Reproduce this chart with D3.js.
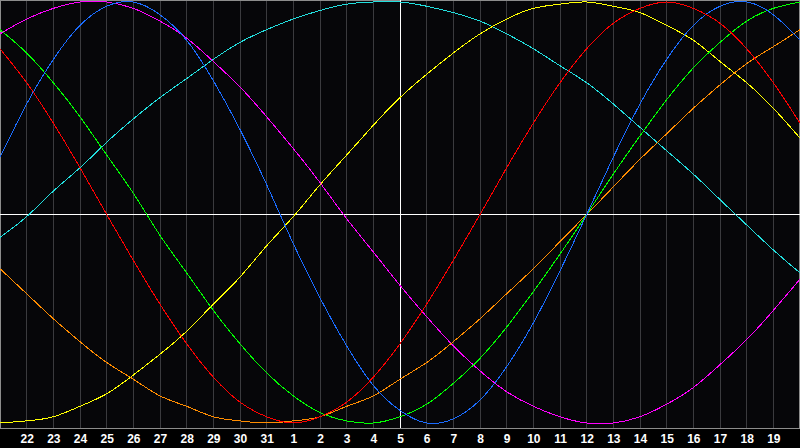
<!DOCTYPE html>
<html>
<head>
<meta charset="utf-8">
<script src="https://cdn.jsdelivr.net/npm/d3@7"></script>
<style>
  body { margin: 0; background: #000; }
  svg { display: block; }
</style>
</head>
<body>
<div class="chart"></div>
<script>
// day of month for each column (index 0..30), today = 5 in the middle
const days = [21, 22, 23, 24, 25, 26, 27, 28, 29, 30, 31,
  1, 2, 3, 4, 5, 6, 7, 8, 9, 10, 11, 12, 13, 14, 15, 16, 17, 18, 19, 20];

// cycle values in percent, one per day
const physical = [27, 52, 73, 89, 98, 100, 94, 82, 63, 40, 14, -14, -40, -63, -82, -94,
  -100, -98, -89, -73, -52, -27, 0, 27, 52, 73, 89, 98, 100, 94, 82];
const emotional = [78, 62, 43, 22, 0, -22, -43, -62, -78, -90, -97, -100, -97, -90, -78, -62,
  -43, -22, 0, 22, 43, 62, 78, 90, 97, 100, 97, 90, 78, 62, 43];
const intellectual = [87, 76, 62, 46, 28, 10, -10, -28, -46, -62, -76, -87, -95, -99, -100, -97,
  -91, -81, -69, -54, -37, -19, 0, 19, 37, 54, 69, 81, 91, 97, 100];
const intuitive = [85, 92, 97, 100, 100, 97, 91, 83, 72, 60, 46, 31, 15, -2, -18, -34,
  -49, -63, -75, -85, -92, -97, -100, -100, -97, -91, -83, -72, -60, -46, -31];
const aesthetic = [-100, -99, -97, -92, -86, -77, -67, -56, -43, -30, -15, -1, 14, 28, 42, 55,
  66, 76, 85, 92, 97, 99, 100, 98, 95, 89, 82, 72, 62, 50, 36];
const awareness = [-26, -38, -50, -61, -71, -79, -87, -92, -97, -99, -100, -99, -97, -92, -87, -79,
  -71, -61, -50, -38, -26, -13, 0, 13, 26, 38, 50, 61, 71, 79, 87];
const spiritual = [-11, -1, 11, 22, 34, 45, 55, 64, 73, 81, 87, 92, 96, 99, 100, 100,
  98, 95, 91, 85, 78, 70, 62, 52, 41, 30, 19, 7, -5, -17, -28];

const series = [
  { name: "spiritual", values: spiritual, color: "#22dede" },
  { name: "aesthetic", values: aesthetic, color: "#ffff00" },
  { name: "intuitive", values: intuitive, color: "#ff00ff" },
  { name: "awareness", values: awareness, color: "#ff8c00" },
  { name: "intellectual", values: intellectual, color: "#00ff00" },
  { name: "physical", values: physical, color: "#1a6cff" },
  { name: "emotional", values: emotional, color: "#ff0000" },
];

const todayIndex = 15;

const dimensions = {
  width: 800,
  height: 448,
  plotHeight: 428,
};

const wrapper = d3.select(".chart")
  .append("svg")
  .attr("width", dimensions.width)
  .attr("height", dimensions.height)

const xScale = d3.scaleLinear()
  .domain([0, days.length - 1])
  .range([0, dimensions.width])

const yScale = d3.scaleLinear()
  .domain([-100, 0, 100])
  .range([423, 214.5, 2])

const crisp = v => Math.floor(v) + 0.5

// plot background
wrapper.append("rect")
  .attr("x", 0)
  .attr("y", 0)
  .attr("width", dimensions.width)
  .attr("height", dimensions.plotHeight)
  .attr("fill", "#060609")

// day grid
wrapper.append("g")
  .selectAll("line")
  .data(d3.range(1, days.length - 1).filter(i => i !== todayIndex))
  .enter().append("line")
  .attr("x1", d => crisp(xScale(d)))
  .attr("x2", d => crisp(xScale(d)))
  .attr("y1", 0)
  .attr("y2", dimensions.plotHeight)
  .attr("stroke", "#3a3a3e")
  .attr("stroke-width", 1)

// frame
wrapper.append("rect")
  .attr("x", 0.5)
  .attr("y", 0.5)
  .attr("width", dimensions.width - 1)
  .attr("height", dimensions.plotHeight)
  .attr("fill", "none")
  .attr("stroke", "#8c8c8c")
  .attr("stroke-width", 1)

// zero line and today line
wrapper.append("line")
  .attr("x1", 0)
  .attr("x2", dimensions.width)
  .attr("y1", yScale(0))
  .attr("y2", yScale(0))
  .attr("stroke", "#ffffff")
  .attr("stroke-width", 1)

wrapper.append("line")
  .attr("x1", crisp(xScale(todayIndex)))
  .attr("x2", crisp(xScale(todayIndex)))
  .attr("y1", 0)
  .attr("y2", dimensions.plotHeight)
  .attr("stroke", "#ffffff")
  .attr("stroke-width", 1)

const lineGenerator = d3.line()
  .x((d, i) => xScale(i))
  .y(d => yScale(d))
  .curve(d3.curveNatural)

wrapper.append("g")
  .selectAll("path")
  .data(series)
  .enter().append("path")
  .attr("d", d => lineGenerator(d.values))
  .attr("fill", "none")
  .attr("stroke", d => d.color)
  .attr("stroke-width", 1)
  .style("shape-rendering", "crispEdges")

// day labels
const xAxisGenerator = d3.axisBottom()
  .scale(xScale)
  .tickValues(d3.range(1, days.length - 1))
  .tickFormat(i => days[i])
  .tickSize(0)
  .tickPadding(0)

const xAxis = wrapper.append("g")
  .call(xAxisGenerator)
  .style("transform", `translateY(${dimensions.plotHeight}px)`)

xAxis.select(".domain").remove()
xAxis.selectAll("text")
  .attr("y", 15)
  .attr("dy", 0)
  .attr("fill", "#ffffff")
  .style("font-family", "'Liberation Sans', Arial, sans-serif")
  .style("font-weight", "bold")
  .style("font-size", "12px")
</script>
</body>
</html>
